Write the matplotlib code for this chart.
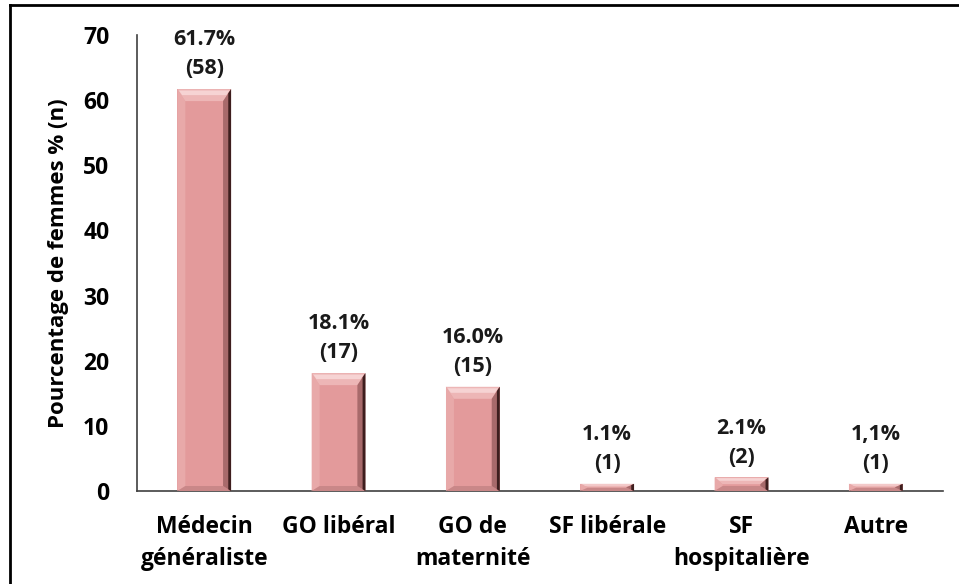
import matplotlib
matplotlib.use("Agg")
import matplotlib.pyplot as plt
from matplotlib.patches import Polygon
from matplotlib.lines import Line2D

categories = ["Médecin\ngénéraliste", "GO libéral", "GO de\nmaternité",
              "SF libérale", "SF\nhospitalière", "Autre"]
percentages = [61.7, 18.1, 16.0, 1.1, 2.1, 1.1]
counts = [58, 17, 15, 1, 2, 1]
pct_labels = ["61.7%", "18.1%", "16.0%", "1.1%", "2.1%", "1,1%"]
y_ticks = [0, 10, 20, 30, 40, 50, 60, 70]

plt.rcParams['font.family'] = ['Open Sans', 'DejaVu Sans']
plt.rcParams['font.weight'] = 'bold'

fig = plt.figure(figsize=(9.59, 5.84), dpi=100)
ax = fig.add_axes([0.1429, 0.1592, 0.8404, 0.7808])

x = list(range(len(categories)))
bars = ax.bar(x, percentages, width=0.40, color="#E39A9B", edgecolor="none", zorder=2)

ax.set_xlim(-0.5, len(categories) - 0.5)
ax.set_ylim(0, 70)
ax.set_yticks(y_ticks)
ax.set_xticks(x)
ax.set_xticklabels(categories, fontsize=16.5, fontweight='bold', linespacing=1.45)
ax.tick_params(axis='x', length=0, pad=17)
ax.tick_params(axis='y', length=0, pad=20, labelsize=16.5)
for lbl in ax.get_yticklabels():
    lbl.set_fontweight('bold')

ax.spines['top'].set_visible(False)
ax.spines['right'].set_visible(False)
ax.spines['left'].set_color('#404040')
ax.spines['bottom'].set_color('#404040')
ax.spines['left'].set_linewidth(1.2)
ax.spines['bottom'].set_linewidth(1.2)

ax.set_ylabel("Pourcentage de femmes % (n)", fontsize=16, fontweight='bold', labelpad=10)

# pixel -> data scale, for the bevel look of the bars
p0 = ax.transData.transform((0, 0))
p1 = ax.transData.transform((1, 1))
ppx = p1[0] - p0[0]
ppy = p1[1] - p0[1]

for bar in bars:
    x0 = bar.get_x()
    w = bar.get_width()
    h = bar.get_height()
    x1 = x0 + w
    bx = 8 / ppx
    by = min(12 / ppy, h / 2)
    bb = min(5 / ppy, h / 2)
    # left bevel
    ax.add_patch(Polygon([(x0, 0), (x0, h), (x0 + bx, h - by), (x0 + bx, bb)],
                         closed=True, color="#E8A9A9", lw=0, zorder=3))
    # bottom bevel
    ax.add_patch(Polygon([(x0, 0), (x1, 0), (x1 - bx, bb), (x0 + bx, bb)],
                         closed=True, color="#C98788", lw=0, zorder=3))
    # top bevel
    ax.add_patch(Polygon([(x0, h), (x1, h), (x1 - bx, h - by), (x0 + bx, h - by)],
                         closed=True, color="#EDB6B6", lw=0, zorder=3))
    ax.add_patch(Polygon([(x0 + bx * 0.2, h - by * 0.12), (x1 - bx * 0.2, h - by * 0.12),
                          (x1 - bx * 0.6, h - by * 0.5), (x0 + bx * 0.6, h - by * 0.5)],
                         closed=True, color="#F6D3D3", lw=0, zorder=3))
    # right side, shaded
    ax.add_patch(Polygon([(x1, 0), (x1, h), (x1 - bx, h - by), (x1 - bx, bb)],
                         closed=True, color="#A86A6B", lw=0, zorder=3))
    ax.add_patch(Polygon([(x1, 0), (x1, h), (x1 - bx * 0.35, h - by * 0.35), (x1 - bx * 0.35, bb * 0.35)],
                         closed=True, color="#3E1E1E", lw=0, zorder=3))

for xi, h, pl, c in zip(x, percentages, pct_labels, counts):
    ax.annotate(f"{pl}\n({c})", (xi, h), xytext=(0, 7), textcoords='offset points',
                ha='center', va='bottom', fontsize=15.5, fontweight='bold',
                linespacing=1.5, color='#1a1a1a')

# outer frame of the picture
fig.add_artist(Line2D([10 / 959, 10 / 959], [0, 1 - 5 / 584], transform=fig.transFigure,
                      color='black', lw=2))
fig.add_artist(Line2D([10 / 959, 1], [1 - 5 / 584, 1 - 5 / 584], transform=fig.transFigure,
                      color='black', lw=2))

fig.savefig("out.png", dpi=100)
plt.close(fig)
